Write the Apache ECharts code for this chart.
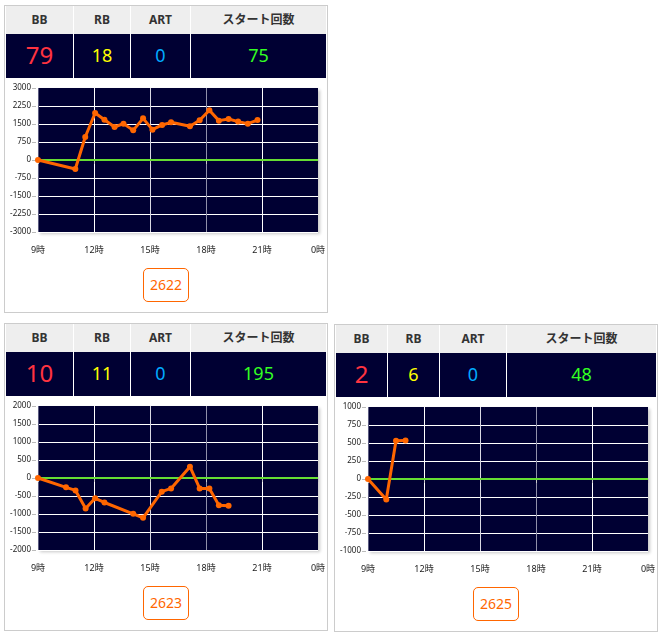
<!DOCTYPE html>
<html><head><meta charset="utf-8">
<script src="https://cdn.jsdelivr.net/npm/echarts@6/dist/echarts.min.js"></script>
<style>
html,body{margin:0;padding:0;background:#fff;width:664px;height:644px;overflow:hidden;font-family:"Noto Sans","Noto Sans CJK JP",sans-serif;}
.panel{position:absolute;box-sizing:border-box;border:1px solid #cccccc;width:324px;height:308px;}
.cell{position:absolute;box-sizing:border-box;text-align:center;white-space:nowrap;}
.hd{top:0;height:28px;line-height:28px;background:#eeeeee;color:#333;font-weight:bold;font-size:12px;}
.vl{top:28px;height:44px;line-height:42px;background:#000033;font-size:18px;}
.sep{border-left:1px solid #ffffff;}
.btn{position:absolute;box-sizing:border-box;width:46px;height:34px;border:1px solid #ff6600;border-radius:5px;color:#ff6600;font-size:14px;line-height:32px;text-align:center;background:#fff;}
#chart{position:absolute;left:0;top:0;width:664px;height:644px;z-index:2;}
</style></head>
<body>
<div id="panels"></div>
<div id="chart"></div>
<script>
// ---- data ----
const headers = ['BB', 'RB', 'ART', 'スタート回数'];
const machineIds = ['2622', '2623', '2625'];
const counts1 = [79, 18, 0, 75];
const counts2 = [10, 11, 0, 195];
const counts3 = [2, 6, 0, 48];
const hours1 = [9.0, 11.0, 11.53, 12.06, 12.56, 13.1, 13.58, 14.1, 14.63, 15.13, 15.65, 16.13, 17.14, 17.66, 18.18, 18.69, 19.21, 19.72, 20.24, 20.76];
const diff1 = [0, -375, 960, 1960, 1680, 1375, 1515, 1235, 1735, 1265, 1460, 1570, 1405, 1655, 2070, 1640, 1710, 1600, 1515, 1665];
const hours2 = [9.0, 10.5, 11.01, 11.55, 12.06, 12.56, 14.1, 14.63, 15.63, 16.13, 17.14, 17.66, 18.18, 18.69, 19.21];
const diff2 = [0, -260, -345, -845, -565, -680, -995, -1105, -380, -290, 315, -290, -290, -755, -770];
const hours3 = [9.0, 9.98, 10.5, 11.01];
const diff3 = [0, -285, 530, 535];
const yMins = [-3000, -2000, -1000];
const yMaxs = [3000, 2000, 1000];
const yIntervals = [750, 500, 250];
const hourMin = 9, hourMax = 24, hourStep = 3;

// ---- layout ----
const panelPos = [[4, 5], [4, 323], [334, 324]];
const colWidths = [[67, 57, 60, 136], [67, 57, 60, 136], [51, 52, 67, 150]];
const valueColors = ['#ff3340', '#ffff00', '#00aaff', '#33ff22'];
const allCounts = [counts1, counts2, counts3];

const host = document.getElementById('panels');
panelPos.forEach((p, i) => {
  const pn = document.createElement('div');
  pn.className = 'panel';
  pn.style.left = p[0] + 'px';
  pn.style.top = p[1] + 'px';
  let x = 1;
  colWidths[i].forEach((w, c) => {
    const h = document.createElement('div');
    h.className = 'cell hd' + (c ? ' sep' : '');
    h.style.left = x + 'px'; h.style.width = w + 'px';
    h.textContent = headers[c];
    pn.appendChild(h);
    const v = document.createElement('div');
    v.className = 'cell vl' + (c ? ' sep' : '');
    v.style.left = x + 'px'; v.style.width = w + 'px';
    v.style.color = valueColors[c];
    if (c === 0) v.style.fontSize = '24px';
    v.textContent = allCounts[i][c];
    pn.appendChild(v);
    x += w;
  });
  const b = document.createElement('div');
  b.className = 'btn';
  b.style.left = '138px';
  b.style.top = '262px';
  b.textContent = machineIds[i];
  pn.appendChild(b);
  host.appendChild(pn);
});

const gridPos = [[38, 88], [38, 406], [368, 407]];
const hours = [hours1, hours2, hours3];
const diffs = [diff1, diff2, diff3];

const grids = [], xAxes = [], yAxes = [], series = [];
gridPos.forEach((g, i) => {
  grids.push({
    left: g[0], top: g[1], width: 280, height: 144,
    show: true, backgroundColor: '#000033', borderWidth: 0,
    shadowColor: 'rgba(0,0,0,0.22)', shadowBlur: 3, shadowOffsetX: 2, shadowOffsetY: 2
  });
  xAxes.push({
    type: 'value', gridIndex: i, min: hourMin, max: hourMax, interval: hourStep,
    axisLine: { show: false },
    axisTick: { show: true, length: 4, lineStyle: { color: '#c8c8c8' } },
    axisLabel: { margin: 14, fontSize: 9, color: '#222', fontFamily: 'Noto Sans, Noto Sans CJK JP',
      formatter: v => (v % 24) + '時' },
    splitLine: { show: true, showMaxLine: false,
      lineStyle: { width: 1, color: ['#5a5a80', '#ffffff', '#d8d8e2', '#9090aa', '#ffffff', '#ffffff'] } }
  });
  yAxes.push({
    type: 'value', gridIndex: i, min: yMins[i], max: yMaxs[i], interval: yIntervals[i],
    offset: 2,
    axisLine: { show: false },
    axisTick: { show: true, length: 4, lineStyle: { color: '#bbbbbb' } },
    axisLabel: { margin: 5, fontSize: 8, color: '#222', fontFamily: 'Noto Sans',
      formatter: v => String(v) },
    splitLine: { show: true, showMaxLine: false, lineStyle: { color: '#ffffff', width: 1 } }
  });
  series.push({
    type: 'line', xAxisIndex: i, yAxisIndex: i,
    data: hours[i].map((h, k) => [h, diffs[i][k]]),
    symbol: 'circle', symbolSize: 6, showSymbol: true,
    lineStyle: { color: '#ff6600', width: 3 },
    itemStyle: { color: '#ff6600' },
    z: 3, animation: false,
    markLine: {
      silent: true, symbol: ['none', 'none'], z: 1, animation: false,
      label: { show: false },
      lineStyle: { color: '#66dd33', width: 2, type: 'solid' },
      data: [{ yAxis: 0 }]
    }
  });
});

const chart = echarts.init(document.getElementById('chart'), null, { renderer: 'canvas' });
chart.setOption({ animation: false, grid: grids, xAxis: xAxes, yAxis: yAxes, series: series });
</script>
</body></html>
